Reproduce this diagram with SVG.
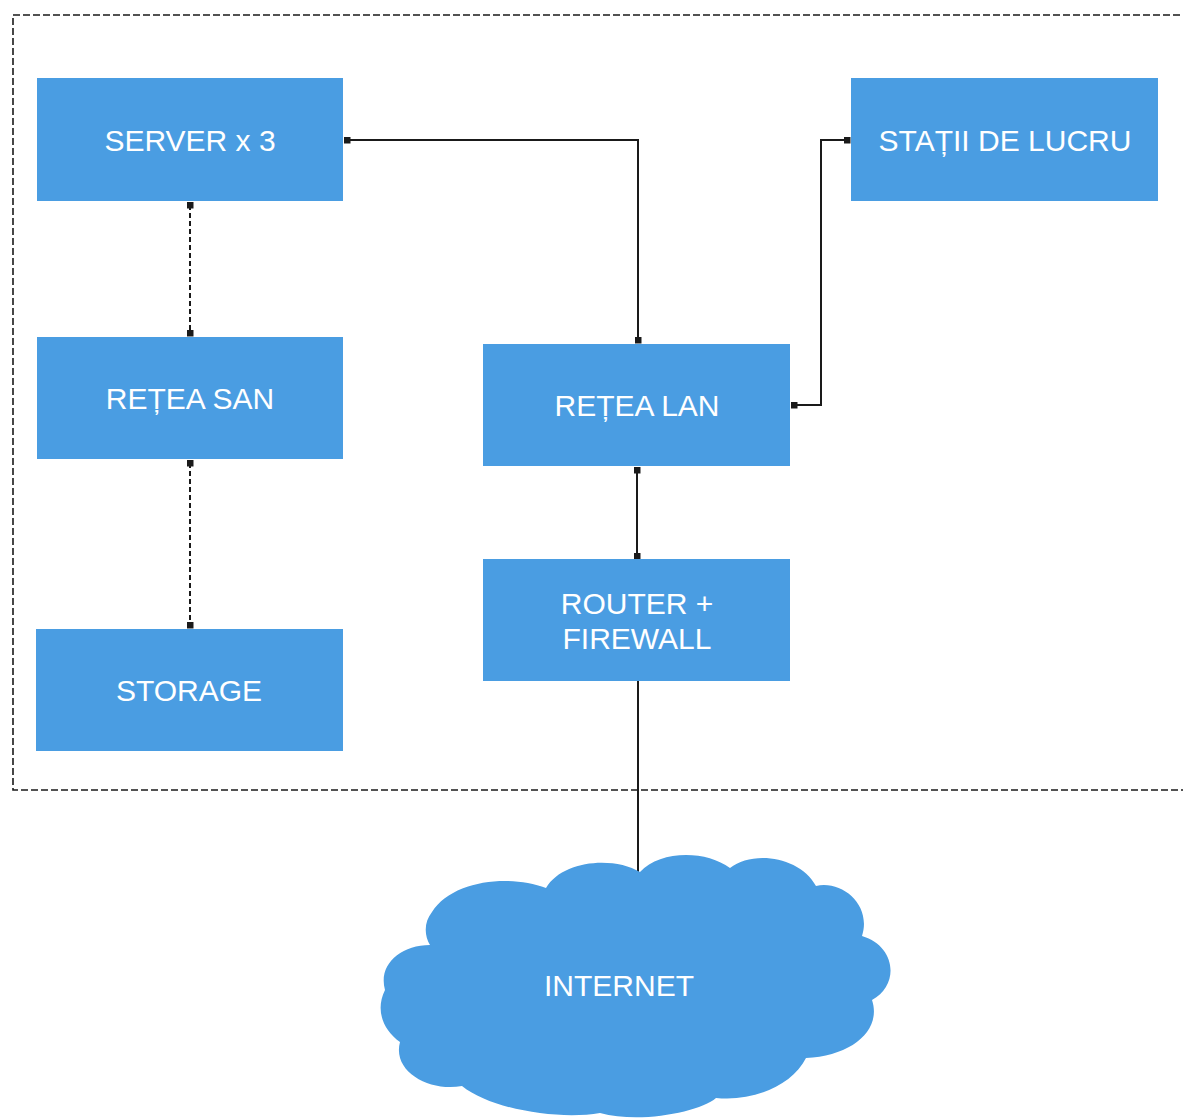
<svg xmlns="http://www.w3.org/2000/svg" width="1183" height="1120" viewBox="0 0 1183 1120">
<style>
.box{fill:#4A9DE2}
.lbl{fill:#ffffff;font-family:"Liberation Sans",Arial,sans-serif;font-size:30px;text-anchor:middle}
.conn{fill:none;stroke:#1a1a1a;stroke-width:2}
.dash{stroke-dasharray:5 3}
</style>
<defs>
<marker id="sq" viewBox="0 0 8 8" refX="4" refY="4" markerWidth="7" markerHeight="7" markerUnits="userSpaceOnUse" orient="auto">
<rect x="0" y="0" width="8" height="8" fill="#1a1a1a"/>
</marker>
</defs>
<rect width="1183" height="1120" fill="#ffffff"/>
<rect id="boundary" x="13" y="15" width="1185" height="775" fill="none" stroke="#1a1a1a" stroke-width="1.6" stroke-dasharray="7 3"/>
<g id="connectors">
<path class="conn" d="M347 140 H638 V340" marker-start="url(#sq)" marker-end="url(#sq)"/>
<path class="conn" d="M847 140 H821 V405 H794" marker-start="url(#sq)" marker-end="url(#sq)"/>
<path class="conn dash" d="M190 205 V333" marker-start="url(#sq)" marker-end="url(#sq)"/>
<path class="conn dash" d="M190 463 V625" marker-start="url(#sq)" marker-end="url(#sq)"/>
<path class="conn" d="M637 470 V556" marker-start="url(#sq)" marker-end="url(#sq)"/>
<path class="conn" d="M638 681 V874"/>
</g>
<g id="server"><rect class="box" x="37" y="78" width="306" height="123"/><text class="lbl" x="190" y="151">SERVER x 3</text></g>
<g id="statii"><rect class="box" x="851" y="78" width="307" height="123"/><text class="lbl" x="1005" y="151">STAȚII DE LUCRU</text></g>
<g id="retea-san"><rect class="box" x="37" y="337" width="306" height="122"/><text class="lbl" x="190" y="409">REȚEA SAN</text></g>
<g id="retea-lan"><rect class="box" x="483" y="344" width="307" height="122"/><text class="lbl" x="637" y="416">REȚEA LAN</text></g>
<g id="router"><rect class="box" x="483" y="559" width="307" height="122"/><text class="lbl" x="637" y="614">ROUTER +</text><text class="lbl" x="637" y="649">FIREWALL</text></g>
<g id="storage"><rect class="box" x="36" y="629" width="307" height="122"/><text class="lbl" x="189" y="701">STORAGE</text></g>
<g id="internet">
<path class="box" d="M430 945 C400 945 378 965 385 990 C375 1010 383 1030 400 1042 C392 1072 430 1092 462 1086 C492 1110 560 1120 600 1113 C640 1124 700 1112 716 1098 C752 1102 792 1086 806 1058 C852 1056 882 1030 872 1000 C900 985 896 946 862 936 C872 905 842 880 816 886 C800 856 752 850 730 868 C706 850 660 850 640 872 C614 856 562 860 546 888 C510 874 452 880 432 912 C424 922 424 935 430 945 Z"/>
<text class="lbl" x="619" y="996">INTERNET</text>
</g>
</svg>
